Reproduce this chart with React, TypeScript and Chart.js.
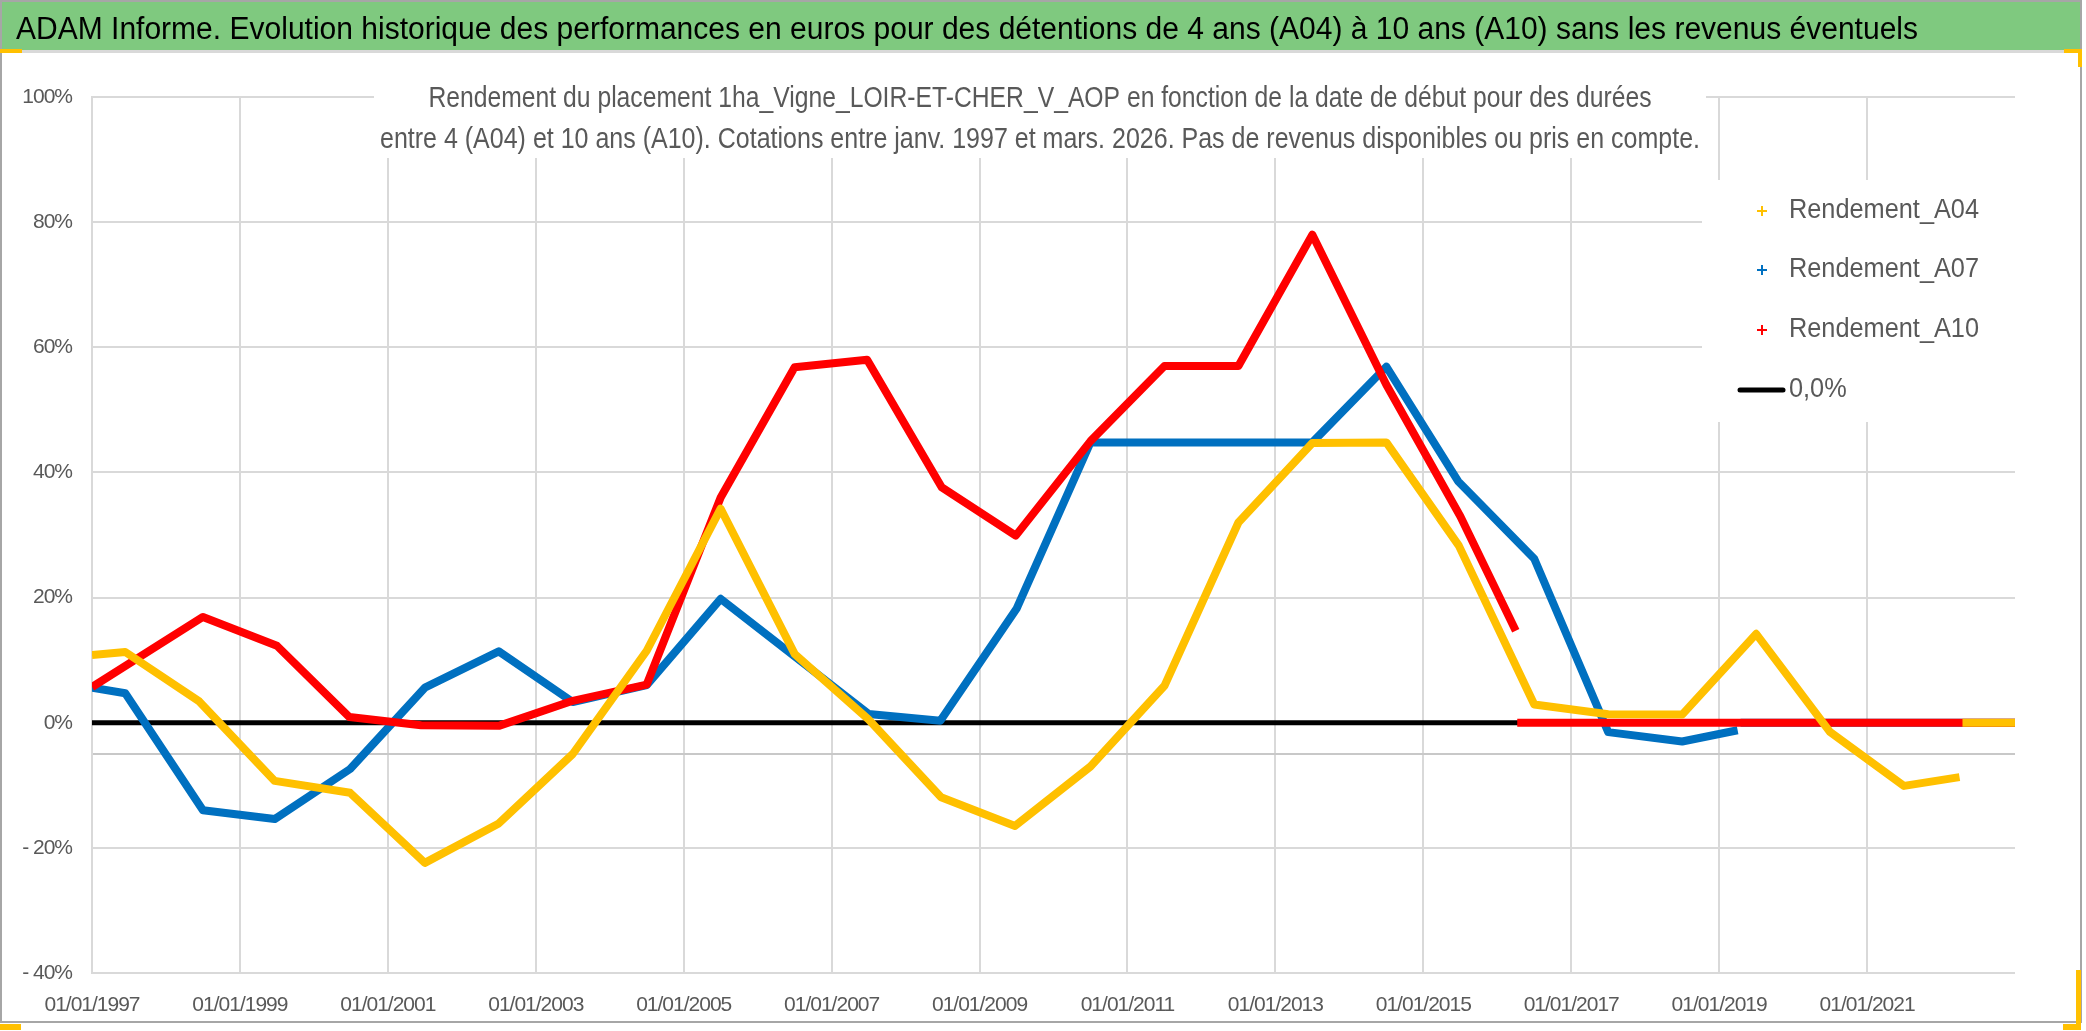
import React, { useEffect, useRef } from 'react';
import { Chart, registerables } from 'chart.js';

Chart.register(...registerables);

// ---------- texts ----------
const TITLE =
  'ADAM Informe. Evolution historique des performances en euros pour des détentions de 4 ans (A04) à 10 ans (A10) sans les revenus éventuels';
const SUBTITLE_1 =
  'Rendement du placement 1ha_Vigne_LOIR-ET-CHER_V_AOP en fonction de la date de début pour des durées';
const SUBTITLE_2 =
  'entre 4 (A04) et 10 ans (A10). Cotations entre janv. 1997 et mars. 2026. Pas de revenus disponibles ou pris en compte.';

// ---------- axes ----------
const X_MIN = 1997;
const X_MAX = 2023;
const X_TICK_YEARS = [1997, 1999, 2001, 2003, 2005, 2007, 2009, 2011, 2013, 2015, 2017, 2019, 2021];
const Y_MIN = -40;
const Y_MAX = 100;
const Y_TICKS = [-40, -20, 0, 20, 40, 60, 80, 100];
const AXIS_CROSS = -5; // where the horizontal (date) axis line crosses

// ---------- series (start date as decimal year, return in %) ----------
const A04_DATES = [
  1997.0, 1997.45, 1998.45, 1999.47, 2000.49, 2001.5, 2002.5, 2003.5, 2004.5, 2005.5, 2006.5, 2007.5,
  2008.48, 2009.48, 2010.5, 2011.5, 2012.5, 2013.5, 2014.5, 2015.48, 2016.5, 2017.5, 2018.5, 2019.5,
  2020.5, 2021.5, 2022.25, 2022.27, 2022.29, 2023.0,
];
const A04_VALUES = [
  10.8, 11.3, 3.4, -9.3, -11.2, -22.4, -16.1, -5.0, 11.5, 34.2, 11.0, 0.5,
  -11.9, -16.5, -7.0, 5.9, 32.0, 44.7, 44.8, 28.3, 2.9, 1.35, 1.3, 14.2,
  -1.5, -10.1, -8.7, null, 0, 0,
];

const A07_DATES = [
  1997.0, 1997.45, 1998.5, 1999.47, 2000.49, 2001.5, 2002.5, 2003.5, 2004.5, 2005.5, 2006.5, 2007.5,
  2008.47, 2009.5, 2010.5, 2011.5, 2012.5, 2013.5, 2014.5, 2015.47, 2016.5, 2017.5, 2018.5, 2019.25,
  2019.27, 2019.29, 2023.0,
];
const A07_VALUES = [
  5.6, 4.7, -14.0, -15.4, -7.4, 5.6, 11.4, 3.3, 6.0, 19.8, 10.6, 1.4,
  0.3, 18.2, 44.8, 44.8, 44.8, 44.8, 56.9, 38.6, 26.2, -1.5, -3.0, -1.2,
  null, 0, 0,
];

const A10_DATES = [
  1997.0, 1998.5, 1999.5, 2000.48, 2001.45, 2002.5, 2003.5, 2004.5, 2005.5, 2006.5, 2007.48,
  2008.49, 2009.49, 2010.5, 2011.5, 2012.5, 2013.5, 2014.5, 2015.5, 2016.25, 2016.26, 2016.27, 2023.0,
];
const A10_VALUES = [
  5.7, 16.9, 12.3, 0.9, -0.4, -0.5, 3.5, 6.1, 36.0, 56.8, 58.0,
  37.6, 29.9, 45.0, 57.0, 57.0, 78.0, 54.0, 33.0, 14.7, null, 0, 0,
];

const ZERO_DATES = [1997.0, 2023.0];
const ZERO_VALUES = [0, 0];

const SERIES_LABELS = ['Rendement_A04', 'Rendement_A07', 'Rendement_A10', '0,0%'];
const SERIES_COLORS = ['#FFC000', '#0070C0', '#FF0000', '#000000'];

// ---------- styles ----------
const FONT = "'Liberation Sans Narrow', 'Liberation Sans', Arial, sans-serif";
const TEXT_GREY = '#595959';
const GRID = '#D9D9D9';
const HEADER_GREEN = '#7FC97F';
const W = 2086;
const H = 1031;

const toPoints = (xs: number[], ys: (number | null)[]) => xs.map((x, i) => ({ x, y: ys[i] }));

const fmtPct = (v: number) => (v < 0 ? `- ${-v}%` : `${v}%`);

function fitText(
  ctx: CanvasRenderingContext2D,
  text: string,
  cx: number,
  baseline: number,
  size: number,
  targetW: number,
  color: string
) {
  ctx.save();
  ctx.font = `${size}px ${FONT}`;
  const w = ctx.measureText(text).width;
  const sx = targetW / w;
  ctx.translate(cx, baseline);
  ctx.scale(sx, 1);
  ctx.textAlign = 'center';
  ctx.textBaseline = 'alphabetic';
  ctx.fillStyle = color;
  ctx.fillText(text, 0, 0);
  ctx.restore();
}

const decorPlugin = {
  id: 'decor',
  beforeDraw(chart: any) {
    const ctx: any = chart.ctx;
    ctx.save();
    ctx.fillStyle = '#FFFFFF';
    ctx.fillRect(0, 0, W, H);
    // header band
    ctx.fillStyle = HEADER_GREEN;
    ctx.fillRect(0, 0, 2081, 50);
    ctx.fillStyle = '#D9D9D9';
    ctx.fillRect(0, 50, 2081, 3);
    // frame
    ctx.strokeStyle = '#A6A6A6';
    ctx.lineWidth = 2;
    ctx.strokeRect(1, 1, 2080, 1021);
    // selection handles
    ctx.fillStyle = '#FFC000';
    ctx.fillRect(0, 49, 22, 4);
    ctx.fillRect(2064, 49, 18, 4);
    ctx.fillRect(2078, 49, 4, 18);
    ctx.fillRect(2076, 970, 5, 60);
    ctx.fillRect(2063, 1024, 18, 6);
    ctx.fillRect(0, 1024, 21, 6);
    ctx.restore();
    fitText(ctx, TITLE, 967, 39, 31, 1902, '#000000');
    // slightly condensed spacing for the axis tick labels drawn next by the scales
    ctx.letterSpacing = '-1px';
  },
  beforeDatasetsDraw(chart: any) {
    const ctx: any = chart.ctx;
    ctx.letterSpacing = '0px';
    const area = chart.chartArea;
    ctx.save();
    // subtitle box
    ctx.fillStyle = '#FFFFFF';
    ctx.fillRect(374, area.top - 30, 1332, 158 - (area.top - 30));
    // legend box
    ctx.fillRect(1702, 180, area.right + 1 - 1702, 242);
    ctx.restore();

    fitText(ctx, SUBTITLE_1, 1040, 107, 29, 1223, TEXT_GREY);
    fitText(ctx, SUBTITLE_2, 1040, 148, 29, 1320, TEXT_GREY);

    // legend
    const rows = [211, 270, 330, 390];
    ctx.save();
    ctx.font = `27px ${FONT}`;
    const sx = 190 / ctx.measureText(SERIES_LABELS[0]).width;
    SERIES_LABELS.forEach((label, i) => {
      const y = rows[i];
      ctx.strokeStyle = SERIES_COLORS[i];
      if (i < 3) {
        ctx.lineWidth = 2;
        ctx.beginPath();
        ctx.moveTo(1757, y);
        ctx.lineTo(1767, y);
        ctx.moveTo(1762, y - 5);
        ctx.lineTo(1762, y + 5);
        ctx.stroke();
      } else {
        ctx.lineWidth = 5;
        ctx.lineCap = 'round';
        ctx.beginPath();
        ctx.moveTo(1740, y);
        ctx.lineTo(1783, y);
        ctx.stroke();
      }
      ctx.save();
      ctx.translate(1789, y);
      ctx.scale(sx, 1);
      ctx.fillStyle = TEXT_GREY;
      ctx.textAlign = 'left';
      ctx.textBaseline = 'middle';
      ctx.fillText(label, 0, 0);
      ctx.restore();
    });
    ctx.restore();
  },
};

export default function App() {
  const ref = useRef<HTMLCanvasElement | null>(null);

  useEffect(() => {
    document.body.style.margin = '0';
    if (!ref.current) return;
    const lineDs = (label: string, data: any[], color: string, width: number, order: number) => ({
      label,
      data,
      borderColor: color,
      backgroundColor: color,
      borderWidth: width,
      pointRadius: 0,
      pointHoverRadius: 0,
      fill: false,
      tension: 0,
      spanGaps: false,
      borderJoinStyle: 'round' as const,
      order,
    });

    const chart = new Chart(ref.current, {
      type: 'line',
      data: {
        datasets: [
          lineDs(SERIES_LABELS[0], toPoints(A04_DATES, A04_VALUES), SERIES_COLORS[0], 8, 0),
          lineDs(SERIES_LABELS[1], toPoints(A07_DATES, A07_VALUES), SERIES_COLORS[1], 8, 2),
          lineDs(SERIES_LABELS[2], toPoints(A10_DATES, A10_VALUES), SERIES_COLORS[2], 8, 1),
          lineDs(SERIES_LABELS[3], toPoints(ZERO_DATES, ZERO_VALUES), SERIES_COLORS[3], 5, 3),
        ],
      },
      options: {
        animation: false,
        responsive: false,
        devicePixelRatio: 1,
        events: [],
        layout: { padding: { left: 0, right: 71, top: 97, bottom: 0 } },
        plugins: {
          legend: { display: false },
          title: { display: false },
          tooltip: { enabled: false },
        },
        scales: {
          x: {
            type: 'linear',
            min: X_MIN,
            max: X_MAX,
            afterBuildTicks: (s: any) => {
              s.ticks = X_TICK_YEARS.map((v) => ({ value: v }));
            },
            afterFit: (s: any) => {
              s.height = 58;
            },
            grid: { color: GRID, lineWidth: 2, drawTicks: false },
            border: { display: false },
            ticks: {
              autoSkip: false,
              maxRotation: 0,
              padding: 20,
              color: TEXT_GREY,
              font: { family: FONT, size: 21 },
              callback: (v: any) => `01/01/${v}`,
            },
          },
          y: {
            type: 'linear',
            min: Y_MIN,
            max: Y_MAX,
            afterBuildTicks: (s: any) => {
              s.ticks = [...Y_TICKS, AXIS_CROSS].sort((a, b) => a - b).map((v) => ({ value: v }));
            },
            afterFit: (s: any) => {
              s.width = 92;
            },
            grid: {
              color: (c: any) => (c.tick && c.tick.value === AXIS_CROSS ? '#C8C8C8' : GRID),
              lineWidth: 2,
              drawTicks: false,
            },
            border: { display: true, color: GRID, width: 2 },
            ticks: {
              autoSkip: false,
              padding: 20,
              color: TEXT_GREY,
              font: { family: FONT, size: 21 },
              callback: (v: any) => (v === AXIS_CROSS ? '' : fmtPct(Number(v))),
            },
          },
        },
      },
      plugins: [decorPlugin],
    });

    return () => chart.destroy();
  }, []);

  return (
    <div style={{ width: W, height: H, position: 'relative' }}>
      <canvas ref={ref} width={W} height={H} style={{ display: 'block', width: W, height: H }} />
    </div>
  );
}
